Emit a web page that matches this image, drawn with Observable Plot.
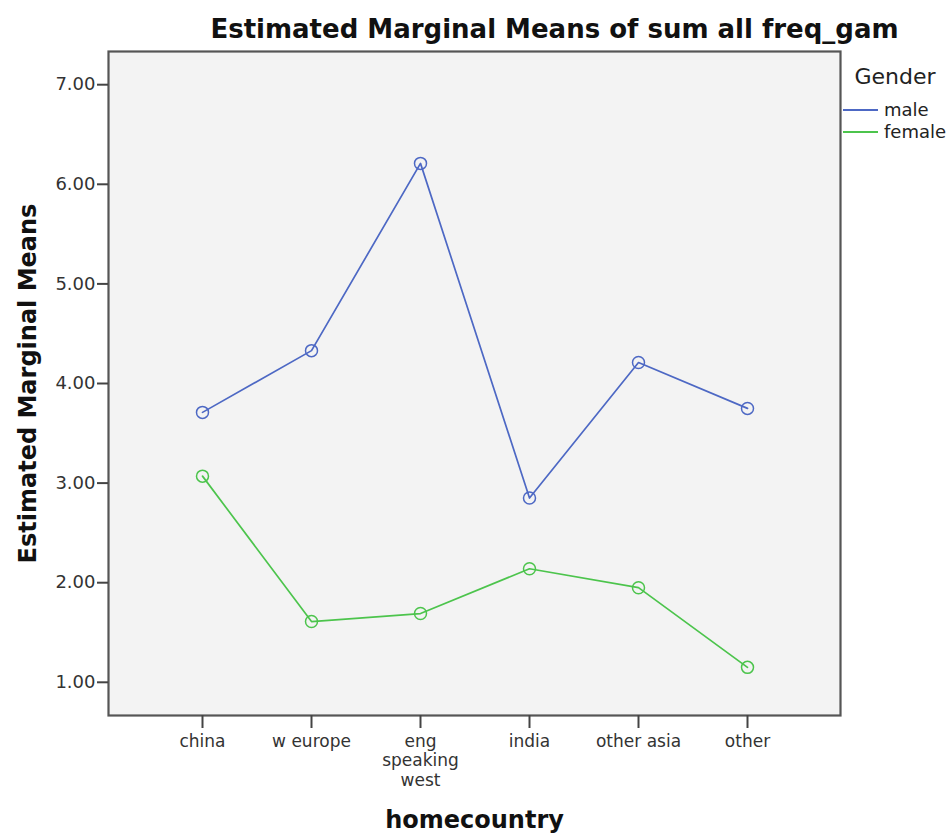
<!DOCTYPE html>
<html>
<head>
<meta charset="utf-8">
<script src="https://cdn.jsdelivr.net/npm/d3@7"></script>
<script src="https://cdn.jsdelivr.net/npm/@observablehq/plot@0.6"></script>
<style>
  html, body { margin: 0; padding: 0; background: white; }
</style>
</head>
<body>
<div id="chart"></div>
<script>
const countries = ["china", "w europe", "eng\nspeaking\nwest", "india", "other asia", "other"];
const genders = ["male", "female"];
const maleMeans = [3.71, 4.33, 6.21, 2.85, 4.21, 3.75];
const femaleMeans = [3.07, 1.61, 1.69, 2.14, 1.95, 1.15];
const yTicks = [1, 2, 3, 4, 5, 6, 7];
const colors = ["#4d68c4", "#4cc44c"];

const titleText = "Estimated Marginal Means of sum all freq_gam";
const yLabel = "Estimated Marginal Means";
const xLabel = "homecountry";
const legendTitle = "Gender";

const data = [];
countries.forEach((c, i) => data.push({country: c, gender: "male", mean: maleMeans[i]}));
countries.forEach((c, i) => data.push({country: c, gender: "female", mean: femaleMeans[i]}));

const chart = Plot.plot({
  width: 950,
  height: 834,
  marginLeft: 108,
  marginRight: 110,
  marginTop: 51,
  marginBottom: 119,
  style: {fontFamily: "DejaVu Sans", background: "white", color: "#333", overflow: "visible"},
  x: {type: "point", domain: countries, padding: 0.84},
  y: {domain: [2 / 3, 22 / 3]},
  color: {domain: genders, range: colors},
  marks: [
    Plot.frame({fill: "#f3f3f3"}),
    Plot.line(data, {x: "country", y: "mean", z: "gender", stroke: "gender", strokeWidth: 1.7}),
    Plot.dot(data, {x: "country", y: "mean", stroke: "gender", fill: "none", r: 6, strokeWidth: 1.5}),
    Plot.frame({stroke: "#555", strokeWidth: 2.2}),
    Plot.axisY({ticks: yTicks, tickFormat: d => d.toFixed(2), tickSize: 11, tickPadding: 2, fontSize: 18, label: null, stroke: "#444", strokeWidth: 2}),
    Plot.axisX({tickSize: 13, tickPadding: 5, fontSize: 17, label: null, stroke: "#444", strokeWidth: 2, lineHeight: 1.13}),
    Plot.text([titleText], {frameAnchor: "top", lineAnchor: "middle", textAnchor: "middle", dx: 80, dy: -22, fontSize: 26, fontWeight: "bold", fill: "#111"}),
    Plot.text([yLabel], {frameAnchor: "left", lineAnchor: "middle", textAnchor: "middle", dx: -80, rotate: -90, fontSize: 24, fontWeight: "bold", fill: "#111"}),
    Plot.text([xLabel], {frameAnchor: "bottom", lineAnchor: "middle", textAnchor: "middle", dy: 105, fontSize: 24, fontWeight: "bold", fill: "#111"})
  ]
});

document.getElementById("chart").appendChild(chart);

// Legend
const svg = d3.select(chart);
const lg = svg.append("g").attr("font-family", "DejaVu Sans");
lg.append("text")
  .attr("x", 895).attr("y", 84)
  .attr("text-anchor", "middle")
  .attr("font-size", 22)
  .attr("fill", "#222")
  .text(legendTitle);
genders.forEach((g, i) => {
  const yy = 110 + i * 22;
  lg.append("line")
    .attr("x1", 843).attr("x2", 878).attr("y1", yy).attr("y2", yy)
    .attr("stroke", colors[i]).attr("stroke-width", 2);
  lg.append("text")
    .attr("x", 884).attr("y", yy).attr("dy", "0.35em")
    .attr("text-anchor", "start")
    .attr("font-size", 18)
    .attr("fill", "#222")
    .text(g);
});
</script>
</body>
</html>
